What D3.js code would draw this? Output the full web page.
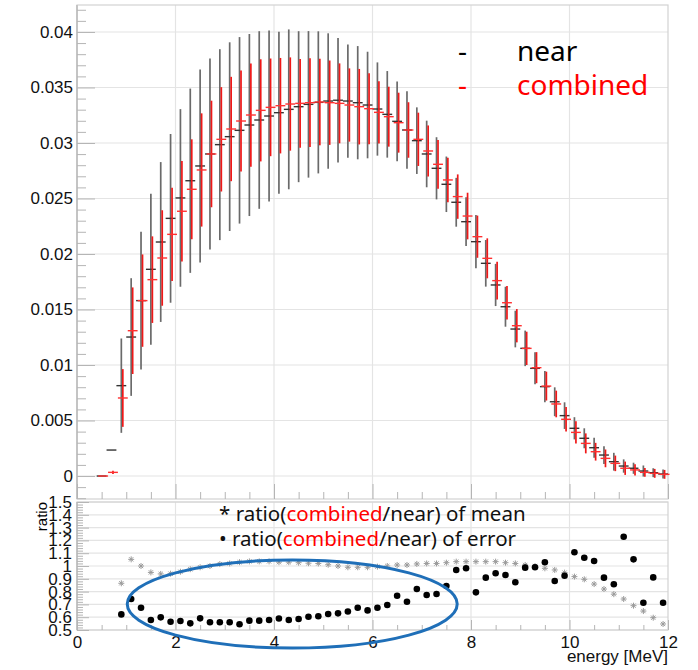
<!DOCTYPE html>
<html lang="en">
<head>
<meta charset="UTF-8">
<title>near vs combined</title>
<script src="https://cdn.jsdelivr.net/npm/d3@7"></script>
<style>
  body { margin: 0; background: #fff; }
  .axis text { font-family: "Liberation Sans", Arial, sans-serif; font-size: 17px; fill: #111; }
  .axis path { display: none; }
  .axis line { stroke: #b5b5b5; }
  .grid line { stroke: #e4e4e4; stroke-width: 1.2; }
  .legend { font-family: "Noto Sans", sans-serif; }
</style>
</head>
<body>
<script>
// bin centres [MeV], bin width 0.2
const bins = [0.5, 0.7, 0.9, 1.1, 1.3, 1.5, 1.7, 1.9, 2.1, 2.3, 2.5, 2.7, 2.9, 3.1, 3.3, 3.5, 3.7, 3.9,
  4.1, 4.3, 4.5, 4.7, 4.9, 5.1, 5.3, 5.5, 5.7, 5.9, 6.1, 6.3, 6.5, 6.7, 6.9, 7.1, 7.3, 7.5, 7.7, 7.9,
  8.1, 8.3, 8.5, 8.7, 8.9, 9.1, 9.3, 9.5, 9.7, 9.9, 10.1, 10.3, 10.5, 10.7, 10.9, 11.1, 11.3, 11.5, 11.7, 11.9];

const nearMean = [0, 0.00234, 0.00814, 0.01252, 0.0158, 0.01862, 0.02108, 0.02321, 0.02505, 0.0266, 0.02793, 0.02901, 0.02985,
  0.03057, 0.03114, 0.03162, 0.03207, 0.03243, 0.03273, 0.03303, 0.03327, 0.03348, 0.03366, 0.03378, 0.03385, 0.03378,
  0.03363, 0.03342, 0.03306, 0.03258, 0.03195, 0.03117, 0.03021, 0.02901, 0.02772, 0.02628, 0.02466, 0.02291, 0.02111,
  0.01916, 0.01721, 0.01525, 0.01324, 0.0115, 0.0097, 0.00805, 0.00669, 0.00544, 0.0043, 0.0034, 0.00255, 0.00189,
  0.00129, 0.0009, 0.0007, 0.00045, 0.0003, 0.00018];
const nearErr = [0, 0, 0.00425, 0.0053, 0.0062, 0.0068, 0.0072, 0.0076, 0.008, 0.0083, 0.0087, 0.0086, 0.0086,
  0.0085, 0.0084, 0.0082, 0.008, 0.0077, 0.0073, 0.0072, 0.0068, 0.0066, 0.0064, 0.0061, 0.0056, 0.0051,
  0.0051, 0.0048, 0.0042, 0.0039, 0.0036, 0.0035, 0.003, 0.003, 0.0028, 0.0025, 0.0022, 0.0022, 0.0024,
  0.0021, 0.0019, 0.0018, 0.00165, 0.0016, 0.00144, 0.0014, 0.0013, 0.0012, 0.001, 0.0009, 0.0009, 0.0008,
  0.0008, 0.0006, 0.0005, 0.0005, 0.0004, 0.0004];

const combMean = [0, 0.00033, 0.00703, 0.01309, 0.0158, 0.01769, 0.01964, 0.02177, 0.02385, 0.02583, 0.02757, 0.02901, 0.03033,
  0.03126, 0.03198, 0.03252, 0.03294, 0.03321, 0.03336, 0.03351, 0.03357, 0.03363, 0.03369, 0.03363, 0.03357, 0.03342,
  0.03327, 0.03309, 0.03276, 0.03237, 0.03183, 0.03117, 0.03033, 0.02928, 0.02808, 0.02667, 0.02517, 0.02342, 0.02156,
  0.01961, 0.0176, 0.01561, 0.01354, 0.0115, 0.00976, 0.0081, 0.00649, 0.00511, 0.00393, 0.00294, 0.00219, 0.00159,
  0.00114, 0.0007, 0.00055, 0.00033, 0.00024, 0.00015];
const combErr = [0, 0.00015, 0.0026, 0.0039, 0.00416, 0.0039, 0.0043, 0.0042, 0.00453, 0.0045, 0.0051, 0.0048, 0.0047,
  0.0047, 0.00455, 0.00465, 0.0046, 0.0044, 0.0043, 0.0042, 0.004, 0.004, 0.0039, 0.0038, 0.0036, 0.0033,
  0.0034, 0.0032, 0.0028, 0.0027, 0.0027, 0.0025, 0.0024, 0.0023, 0.0022, 0.002, 0.002, 0.0021, 0.0019,
  0.0018, 0.0017, 0.0015, 0.0015, 0.0015, 0.0014, 0.0013, 0.0012, 0.0011, 0.001, 0.0009, 0.0008, 0.0008,
  0.0007, 0.0006, 0.0005, 0.0004, 0.0004, 0.0004];

// ratio panel (first two bins are off scale, not drawn)
const meanRatio = [null, null, 0.865, 1.052, 1.0, 0.95, 0.938, 0.94, 0.955, 0.975, 0.99, 1.0, 1.015,
  1.02, 1.03, 1.036, 1.036, 1.036, 1.03, 1.03, 1.026, 1.022, 1.02, 1.01, 1.0, 0.99,
  0.99, 0.99, 0.995, 1.0, 1.008, 1.008, 1.016, 1.02, 1.02, 1.026, 1.034, 1.034, 1.034,
  1.034, 1.034, 1.026, 1.02, 1.008, 1.0, 0.982, 0.969, 0.948, 0.917, 0.896, 0.859, 0.82,
  0.78, 0.742, 0.69, 0.648, 0.596, 0.547];
const errRatio = [null, null, 0.622, 0.742, 0.674, 0.578, 0.599, 0.565, 0.57, 0.552, 0.591, 0.56, 0.56,
  0.56, 0.545, 0.573, 0.573, 0.578, 0.59, 0.578, 0.586, 0.604, 0.607, 0.625, 0.63, 0.645,
  0.674, 0.653, 0.674, 0.695, 0.768, 0.721, 0.82, 0.773, 0.781, 0.844, 0.969, 0.982, 0.794,
  0.909, 0.943, 0.93, 0.873, 0.987, 0.99, 1.029, 0.883, 0.924, 1.107, 1.065, 1.039, 0.909,
  0.857, 1.229, 1.052, 0.713, 0.911, 0.713];

const topYTicks = [0, 0.005, 0.01, 0.015, 0.02, 0.025, 0.03, 0.035, 0.04];
const topYLabels = ["0", "0.005", "0.01", "0.015", "0.02", "0.025", "0.03", "0.035", "0.04"];
const botYTicks = [0.5, 0.6, 0.7, 0.8, 0.9, 1.0, 1.1, 1.2, 1.3, 1.4, 1.5];
const botYLabels = ["0.5", "0.6", "0.7", "0.8", "0.9", "1", "1.1", "1.2", "1.3", "1.4", "1.5"];
const xTicks = [0, 2, 4, 6, 8, 10, 12];
const xLabels = ["0", "2", "4", "6", "8", "10", "12"];

const w = 698, h = 670;
const svg = d3.select("body").append("svg").attr("width", w).attr("height", h);

const x = d3.scaleLinear().domain([0, 12]).range([77, 668]);
const yTop = d3.scaleLinear().domain([-0.00207, 0.04243]).range([499, 5]);
const yBot = d3.scaleLinear().domain([0.5, 1.5]).range([630, 502]);
const [x0, x1] = x.range();

// grids
const gridTop = svg.append("g").attr("class", "grid");
gridTop.selectAll(".h").data(topYTicks).join("line").attr("class", "h")
  .attr("x1", x0).attr("x2", x1).attr("y1", d => yTop(d)).attr("y2", d => yTop(d));
gridTop.selectAll(".v").data(xTicks.slice(1, -1)).join("line").attr("class", "v")
  .attr("x1", d => x(d)).attr("x2", d => x(d)).attr("y1", yTop.range()[1]).attr("y2", yTop.range()[0]);

const gridBot = svg.append("g").attr("class", "grid");
gridBot.selectAll(".h").data(botYTicks).join("line").attr("class", "h")
  .attr("x1", x0).attr("x2", x1).attr("y1", d => yBot(d)).attr("y2", d => yBot(d));
gridBot.selectAll(".v").data(xTicks.slice(1, -1)).join("line").attr("class", "v")
  .attr("x1", d => x(d)).attr("x2", d => x(d)).attr("y1", yBot.range()[1]).attr("y2", yBot.range()[0]);

// frames
[[yTop.range()[1], yTop.range()[0]], [yBot.range()[1], yBot.range()[0]]].forEach(([t, b]) => {
  svg.append("rect").attr("x", x0).attr("y", t).attr("width", x1 - x0).attr("height", b - t)
    .attr("fill", "none").attr("stroke", "#d2d2d2").attr("stroke-width", 1.2);
  svg.append("line").attr("x1", x0).attr("x2", x0).attr("y1", t).attr("y2", b)
    .attr("stroke", "#c4c4c4").attr("stroke-width", 2);
});

// top panel axes
const minorTopY = d3.range(-0.002, 0.0425, 0.001).filter(v => Math.abs(v / 0.005 - Math.round(v / 0.005)) > 1e-6);
svg.append("g").attr("class", "axis").attr("transform", `translate(${x0},0)`)
  .call(d3.axisLeft(yTop).tickValues(minorTopY).tickSize(-9).tickFormat(""));
svg.append("g").attr("class", "axis").attr("transform", `translate(${x0},0)`)
  .call(d3.axisLeft(yTop).tickValues(topYTicks).tickSize(-18).tickPadding(4)
    .tickFormat((d, i) => topYLabels[i]));

const minorX = d3.range(0.5, 12, 0.5).filter(v => v % 2 !== 0);
svg.append("g").attr("class", "axis").attr("transform", `translate(0,${yTop.range()[0]})`)
  .call(d3.axisBottom(x).tickValues(minorX).tickSize(-7).tickFormat(""));
svg.append("g").attr("class", "axis").attr("transform", `translate(0,${yTop.range()[0]})`)
  .call(d3.axisBottom(x).tickValues(xTicks).tickSize(-15).tickFormat(""));

// bottom panel axes
const minorBotY = d3.range(0.52, 1.5, 0.02).filter(v => Math.abs(v * 10 - Math.round(v * 10)) > 1e-6);
svg.append("g").attr("class", "axis").attr("transform", `translate(${x0},0)`)
  .call(d3.axisLeft(yBot).tickValues(minorBotY).tickSize(-6).tickFormat(""));
svg.append("g").attr("class", "axis").attr("transform", `translate(${x0},0)`)
  .call(d3.axisLeft(yBot).tickValues(botYTicks).tickSize(-12).tickPadding(5)
    .tickFormat((d, i) => botYLabels[i]));

svg.append("g").attr("class", "axis").attr("transform", `translate(0,${yBot.range()[0]})`)
  .call(d3.axisBottom(x).tickValues(minorX).tickSize(-5).tickFormat(""));
svg.append("g").attr("class", "axis").attr("transform", `translate(0,${yBot.range()[0]})`)
  .call(d3.axisBottom(x).tickValues(xTicks).tickSize(-10).tickPadding(6)
    .tickFormat((d, i) => xLabels[i]));

svg.append("text").attr("class", "axis")
  .attr("transform", `translate(47,${yBot.range()[1]}) rotate(-90)`)
  .attr("text-anchor", "end")
  .style("font-family", "'Liberation Sans', Arial, sans-serif").style("font-size", "15px")
  .text("ratio");
svg.append("text")
  .attr("x", x1).attr("y", 662).attr("text-anchor", "end")
  .style("font-family", "'Liberation Sans', Arial, sans-serif").style("font-size", "17px").attr("fill", "#111")
  .text("energy [MeV]");

// error bars
const half = 0.1;
function drawSeries(mean, err, vColor, hColor, dx) {
  const g = svg.append("g");
  const data = bins.map((b, i) => ({ b, m: mean[i], e: err[i] }));
  g.selectAll(".v").data(data.filter(d => d.e > 0)).join("line").attr("class", "v")
    .attr("x1", d => x(d.b) + dx).attr("x2", d => x(d.b) + dx)
    .attr("y1", d => yTop(d.m - d.e)).attr("y2", d => yTop(d.m + d.e))
    .attr("stroke", vColor).attr("stroke-width", 1.7);
  g.selectAll(".hb").data(data).join("line").attr("class", "hb")
    .attr("x1", d => x(d.b - half) + dx).attr("x2", d => x(d.b + half) + dx)
    .attr("y1", d => yTop(d.m)).attr("y2", d => yTop(d.m))
    .attr("stroke", hColor).attr("stroke-width", 1.4);
}
drawSeries(nearMean, nearErr, "#6a6a6a", "#333", 0);
drawSeries(combMean, combErr, "#f01818", "#ff3030", 1.5);

// ratio markers
const asterisk = {
  draw(ctx, size) {
    const r = Math.sqrt(size) / 2, d = r * 0.707;
    ctx.moveTo(-r, 0); ctx.lineTo(r, 0);
    ctx.moveTo(0, -r); ctx.lineTo(0, r);
    ctx.moveTo(-d, -d); ctx.lineTo(d, d);
    ctx.moveTo(-d, d); ctx.lineTo(d, -d);
  }
};
const ratioData = bins.map((b, i) => ({ b, mr: meanRatio[i], er: errRatio[i] })).filter(d => d.mr !== null);
svg.append("g").selectAll("path").data(ratioData).join("path")
  .attr("d", d3.symbol().type(asterisk).size(36))
  .attr("transform", d => `translate(${x(d.b)},${yBot(d.mr)})`)
  .attr("fill", "none").attr("stroke", "#9a9a9a").attr("stroke-width", 1);
svg.append("g").selectAll("circle").data(ratioData).join("circle")
  .attr("cx", d => x(d.b)).attr("cy", d => yBot(d.er)).attr("r", 3.3).attr("fill", "#000");

// legends
const legTop = svg.append("g").attr("class", "legend").style("font-size", "28px");
legTop.append("text").attr("x", 458).attr("y", 61).attr("fill", "#000").text("-");
legTop.append("text").attr("x", 517).attr("y", 61).attr("fill", "#000").text("near");
legTop.append("text").attr("x", 458).attr("y", 95).attr("fill", "#ff0000").text("-");
legTop.append("text").attr("x", 517).attr("y", 95).attr("fill", "#ff0000").text("combined");

const legBot = svg.append("g").attr("class", "legend").style("font-size", "20.5px");
[["* ratio(", "of mean", 521], ["\u2022 ratio(", "of error", 546]].forEach(([pre, post, yy]) => {
  const t = legBot.append("text").attr("x", 219).attr("y", yy).attr("fill", "#111");
  t.append("tspan").text(pre);
  t.append("tspan").attr("fill", "#ff0000").text("combined");
  t.append("tspan").text("/near) " + post);
});

// highlight ellipse
const ecx = 4.37, ecy = 0.703;
svg.append("ellipse")
  .attr("cx", x(ecx)).attr("cy", yBot(ecy))
  .attr("rx", x(ecx + 3.35) - x(ecx)).attr("ry", yBot(ecy - 0.344) - yBot(ecy))
  .attr("fill", "none").attr("stroke", "#1f6fb8").attr("stroke-width", 3);
</script>
</body>
</html>
